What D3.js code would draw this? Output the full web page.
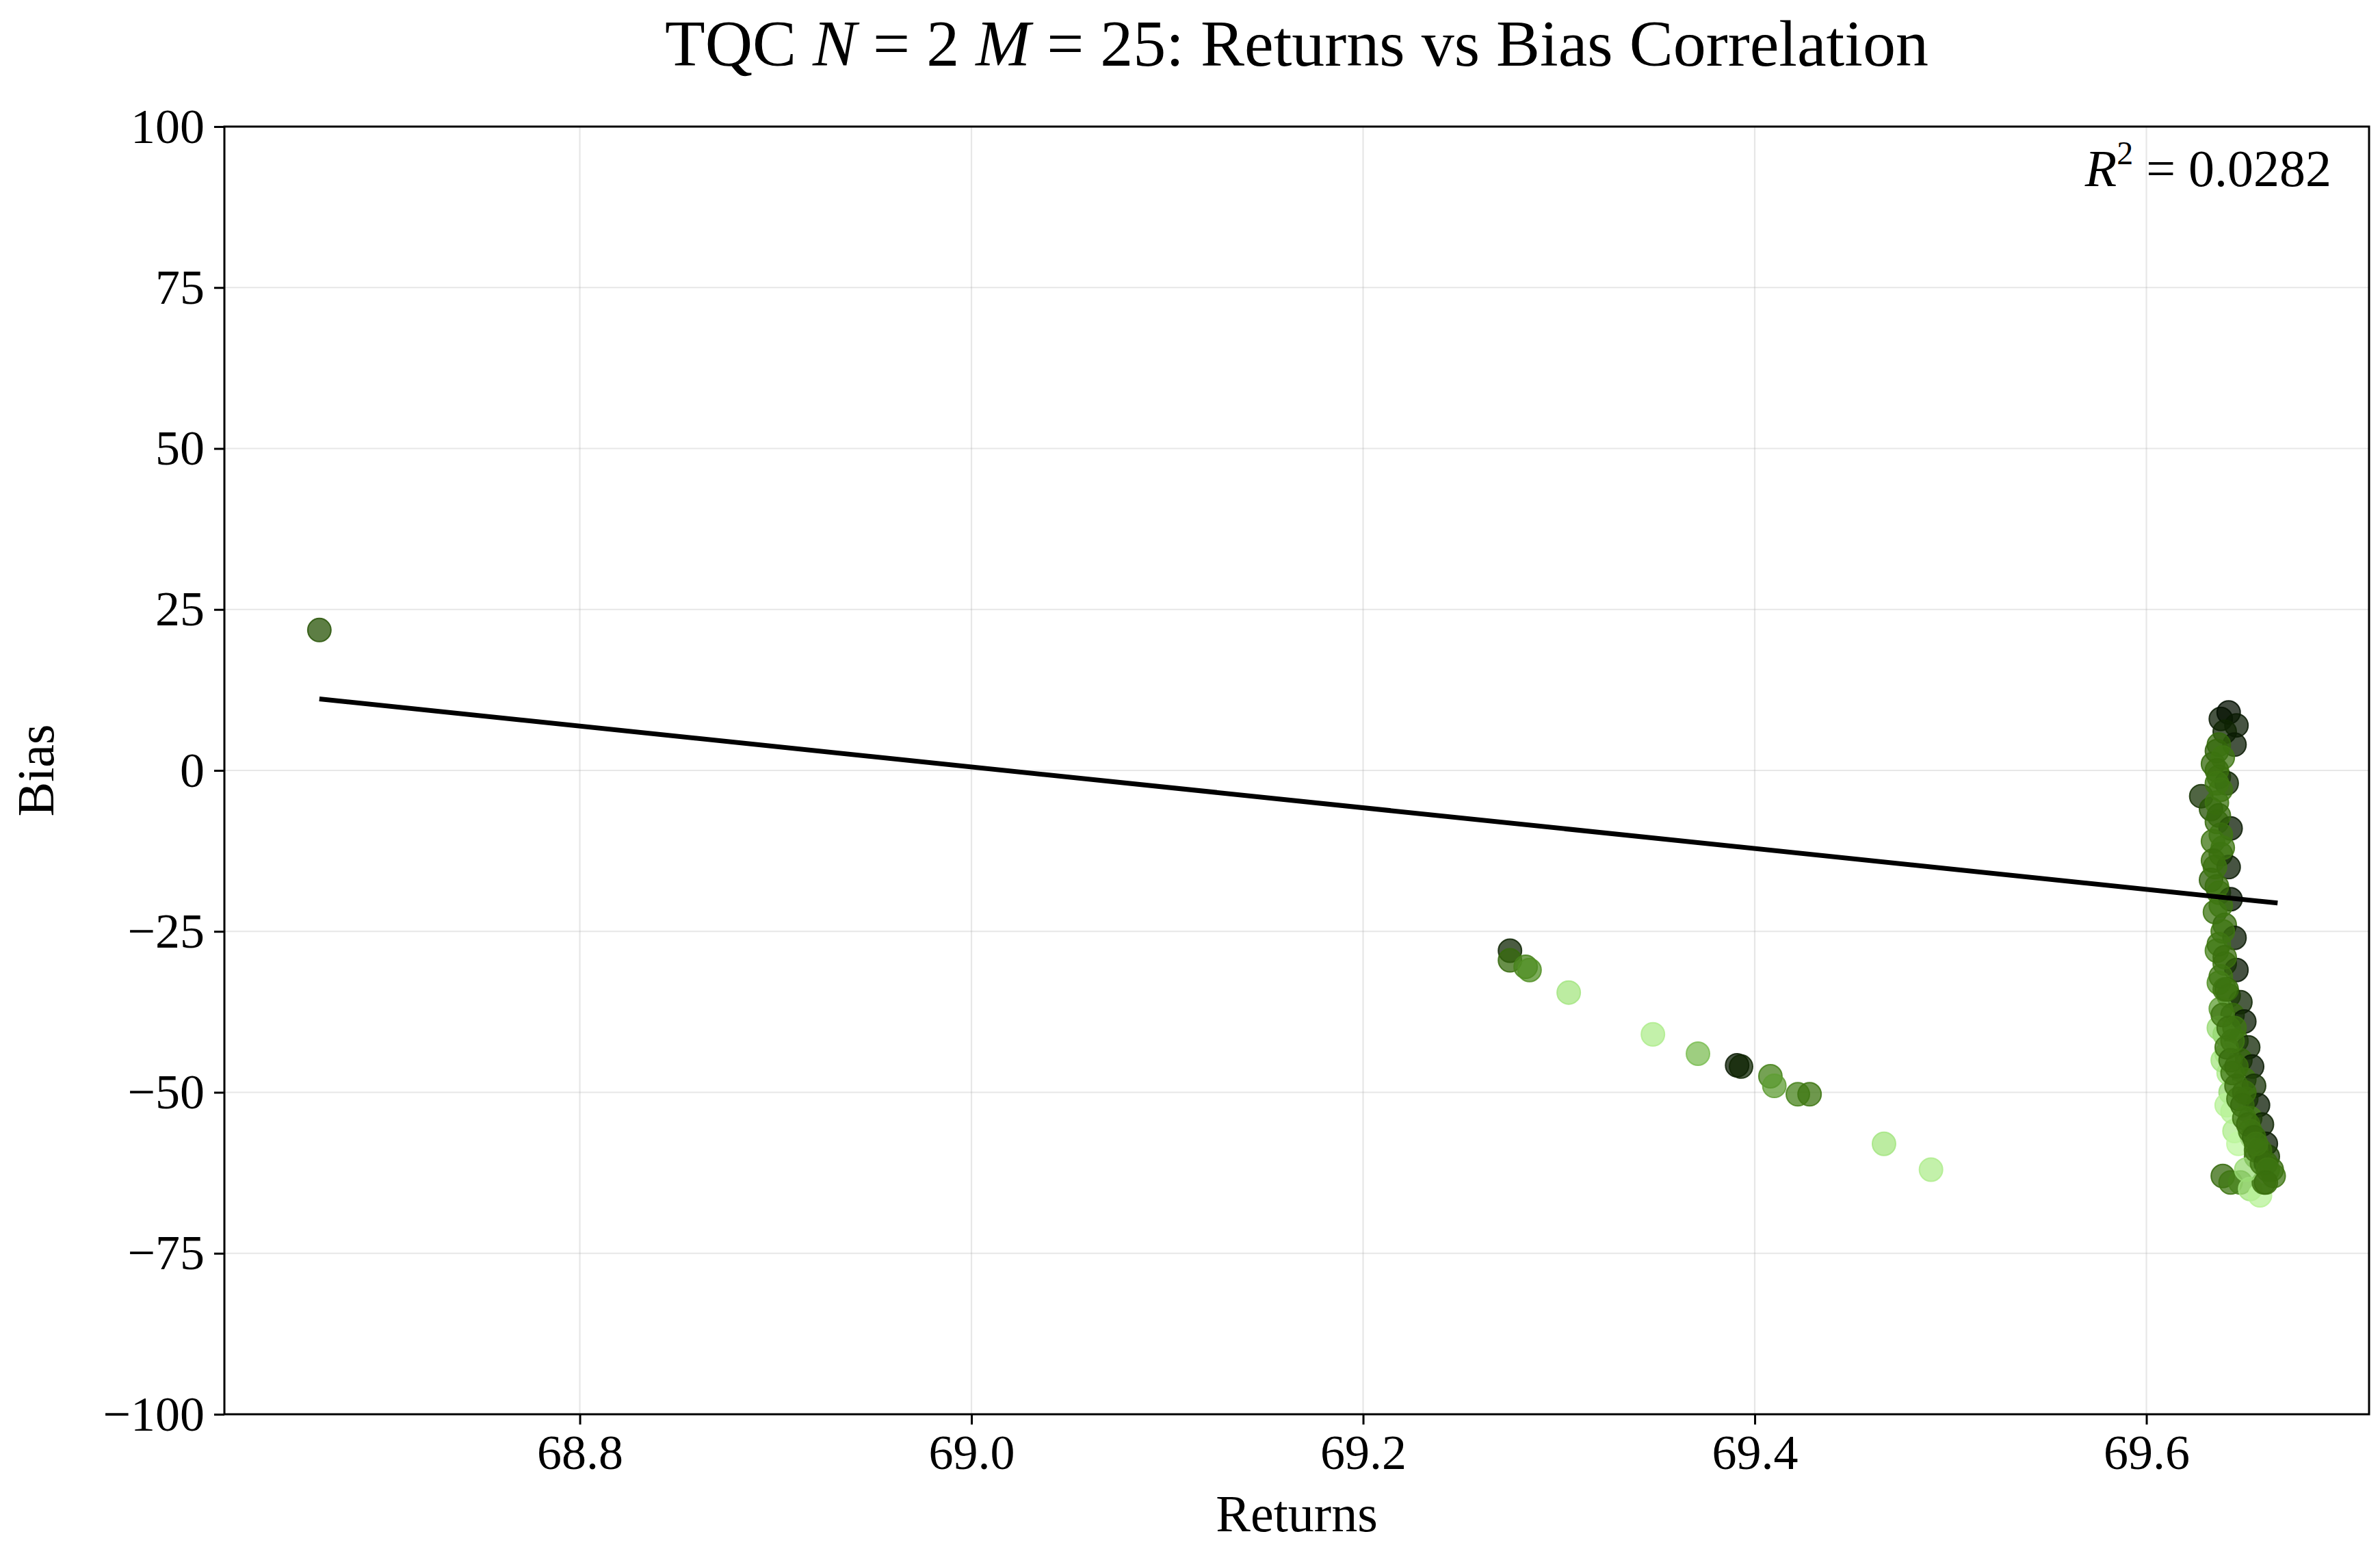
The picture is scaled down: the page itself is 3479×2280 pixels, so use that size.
<!DOCTYPE html>
<html><head><meta charset="utf-8">
<script src="https://cdn.jsdelivr.net/npm/d3@7"></script>
<style>body{margin:0;background:#fff}text{font-family:"Liberation Serif","DejaVu Serif",serif}</style>
</head><body><svg id="c" width="3479" height="2280"></svg>
<script>
// returns / bias / shade (0 = darkest, 1 = lightest)
const retX = [68.667, 69.275,69.275,69.283,69.285,69.305,69.348,69.371,69.391,69.393,69.408,69.41,69.422,69.428,69.466,69.49,
  69.638,69.642,69.646,69.640,69.645,69.636,69.634,69.637,69.641,69.628,69.633,69.636,69.643,69.634,69.638,69.642,69.633,69.637,69.643,69.635,
  69.640,69.645,69.636,69.640,69.646,69.637,69.642,69.648,69.638,69.644,69.650,69.640,69.646,69.652,69.641,69.648,69.654,69.642,69.650,69.655,
  69.643,69.651,69.657,69.644,69.653,69.659,69.645,69.654,69.661,69.647,69.656,69.662,69.639,69.643,69.648,69.653,69.658,69.660,69.664,69.665,
  69.651,69.639,69.637,69.641,69.636,69.635,69.639,69.638,
  69.637,69.639,69.636,69.638,69.637,69.639,69.636,69.638,69.637,69.640,69.638,69.641,69.639,69.642,69.641,69.643,69.644,69.646,69.647,69.649,
  69.650,69.652,69.653,69.655,69.656,69.658,69.659,69.661,69.662,69.644,69.646,69.656,69.661,69.640,69.645,69.650,69.636,69.634];
const biasY = [21.8, -28,-29.5,-30.5,-31,-34.5,-41,-44,-45.8,-46,-47.5,-49,-50.3,-50.3,-58,-62,
  8,9,7,6,4,3,1,-1,-2,-4,-6,-8,-9,-11,-13,-15,-17,-19,-20,-22,
  -24,-26,-28,-30,-31,-33,-35,-36,-37,-38,-39,-41,-42,-43,-44,-45,-46,-47,-48,-49,
  -50,-51,-52,-53,-54,-55,-56,-57,-58,-58,-60,-60,-63,-64,-64,-65,-66,-64,-62,-63,
  -62,-45,-40,-52,-5,-15,-25,-10,
  4,2,0,-3,-7,-12,-18,-21,-27,-29,-32,-34,-38,-40,-43,-45,-47,-49,-51,-52,
  -54,-55,-56,-57,-59,-59,-61,-61,-62,-42,-46,-58,-64,-34,-40,-50,-2,-14];
const shade = [0.3, 0.1,0.4,0.5,0.55,0.85,0.9,0.7,0.05,0.1,0.5,0.6,0.5,0.45,0.85,0.9,
  0.05,0.0,0.05,0.1,0.05,0.35,0.4,0.45,0.1,0.15,0.3,0.4,0.05,0.45,0.4,0.05,0.35,0.5,0.02,0.45,
  0.4,0.05,0.5,0.45,0.03,0.55,0.45,0.1,0.6,0.4,0.05,0.75,0.45,0.1,0.85,0.4,0.05,0.9,0.45,0.15,
  0.8,0.45,0.05,0.95,0.5,0.1,0.9,0.45,0.05,1.0,0.45,0.2,0.4,0.45,0.5,0.85,0.95,0.45,0.4,0.45,
  0.8,0.85,0.8,0.95,0.45,0.45,0.45,0.45,
  0.4,0.45,0.42,0.45,0.4,0.45,0.42,0.45,0.45,0.42,0.45,0.4,0.45,0.42,0.45,0.4,0.45,0.42,0.45,0.4,
  0.45,0.42,0.45,0.4,0.45,0.42,0.45,0.4,0.45,0.45,0.42,0.45,0.42,0.45,0.45,0.42,0.45,0.42];
const fitX = [68.667, 69.667];
const fitY = [11.1, -20.6];
const xTicks = [68.8, 69.0, 69.2, 69.4, 69.6];
const yTicks = [-100, -75, -50, -25, 0, 25, 50, 75, 100];
const r2Text = "0.0282";

const svg = d3.select("#c");
const L = 328, R = 3463, T = 185, B = 2067;
const x = d3.scaleLinear().domain([68.6185, 69.7137]).range([L, R]);
const y = d3.scaleLinear().domain([-100, 100]).range([B, T]);
const col = d3.interpolateRgbBasis(["#041002", "#1a3c05", "#336a05", "#5a9a2e", "#a0e47c", "#bff7a0"]);

// grid
svg.append("g").selectAll("line").data(xTicks).join("line")
  .attr("x1", d => x(d)).attr("x2", d => x(d)).attr("y1", T).attr("y2", B)
  .attr("stroke", "#b0b0b0").attr("stroke-opacity", 0.3).attr("stroke-width", 2.2);
svg.append("g").selectAll("line").data(yTicks).join("line")
  .attr("y1", d => y(d)).attr("y2", d => y(d)).attr("x1", L).attr("x2", R)
  .attr("stroke", "#b0b0b0").attr("stroke-opacity", 0.3).attr("stroke-width", 2.2);

// points
const pts = retX.map((v, i) => ({x: v, y: biasY[i], s: shade[i]}));
svg.append("g").selectAll("circle").data(pts).join("circle")
  .attr("cx", d => x(d.x)).attr("cy", d => y(d.y)).attr("r", 17)
  .attr("fill", d => col(d.s)).attr("fill-opacity", 0.75)
  .attr("stroke", d => col(d.s)).attr("stroke-opacity", 0.85).attr("stroke-width", 2);

// fit line
svg.append("line")
  .attr("x1", x(fitX[0])).attr("y1", y(fitY[0])).attr("x2", x(fitX[1])).attr("y2", y(fitY[1]))
  .attr("stroke", "#000").attr("stroke-width", 7);

// axes
const fs = 72;
const xa = svg.append("g").attr("transform", `translate(0,${B})`)
  .call(d3.axisBottom(x).tickValues(xTicks).tickFormat(d3.format(".1f")).tickSizeOuter(0).tickSize(15).tickPadding(14));
const ya = svg.append("g").attr("transform", `translate(${L},0)`)
  .call(d3.axisLeft(y).tickValues(yTicks).tickFormat(d => d < 0 ? "\u2212" + (-d) : d).tickSizeOuter(0).tickSize(15).tickPadding(14));
[xa, ya].forEach(a => {
  a.selectAll("text").attr("font-size", fs).attr("font-family", "Liberation Serif").attr("fill", "#000");
  a.selectAll("line").attr("stroke-width", 3);
  a.select(".domain").remove();
});
svg.append("rect").attr("x", L).attr("y", T).attr("width", R - L).attr("height", B - T)
  .attr("fill", "none").attr("stroke", "#000").attr("stroke-width", 3);

// labels
svg.append("text").attr("x", (L + R) / 2).attr("y", 2238).attr("text-anchor", "middle")
  .attr("font-size", 76).text("Returns");
svg.append("text").attr("transform", `translate(78,${(T + B) / 2}) rotate(-90)`).attr("text-anchor", "middle")
  .attr("font-size", 76).text("Bias");

const title = svg.append("text").attr("x", (L + R) / 2).attr("y", 96).attr("text-anchor", "middle").attr("font-size", 96);
title.append("tspan").text("TQC ");
title.append("tspan").attr("font-style", "italic").text("N");
title.append("tspan").text(" = 2 ");
title.append("tspan").attr("font-style", "italic").text("M");
title.append("tspan").text(" = 25: Returns vs Bias Correlation");

const r2 = svg.append("text").attr("x", 3408).attr("y", 272).attr("text-anchor", "end").attr("font-size", 76);
r2.append("tspan").attr("font-style", "italic").text("R");
r2.append("tspan").attr("font-size", 48).attr("dy", -32).text("2");
r2.append("tspan").attr("dy", 32).text(" = " + r2Text);
</script></body></html>
